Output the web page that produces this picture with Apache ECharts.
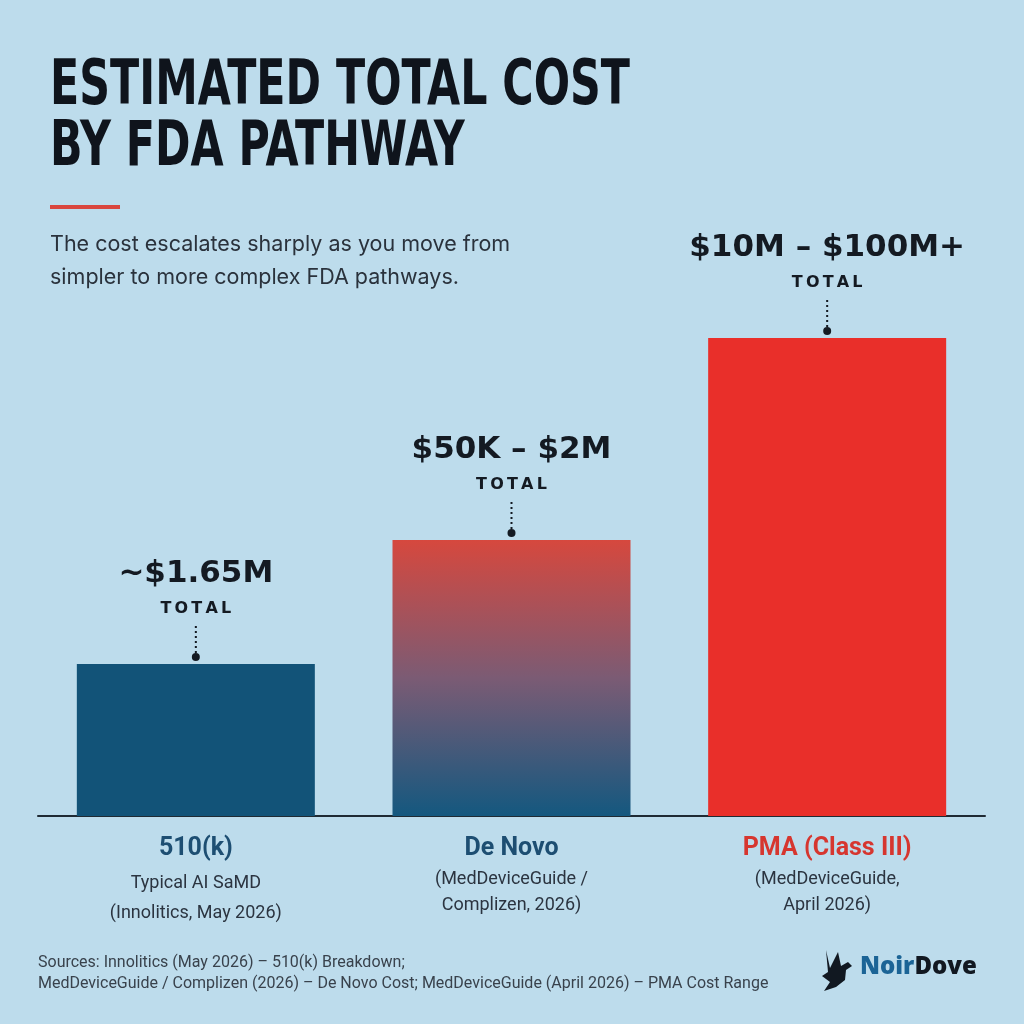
<!DOCTYPE html>
<html>
<head>
<meta charset="utf-8">
<title>Estimated Total Cost by FDA Pathway</title>
<script src="https://cdn.jsdelivr.net/npm/echarts@6/dist/echarts.min.js"></script>
<style>
  html, body { margin: 0; padding: 0; background: #bddcec; }
  #chart { width: 1024px; height: 1024px; }
</style>
</head>
<body>
<div id="chart"></div>
<script>
// pathways shown left to right
var categories = ['510(k)', 'De Novo', 'PMA (Class III)'];
var subLines = [
  ['Typical AI SaMD', '(Innolitics, May 2026)'],
  ['(MedDeviceGuide /', 'Complizen, 2026)'],
  ['(MedDeviceGuide,', 'April 2026)']
];
var costLabels = ['~$1.65M', '$50K \u2013 $2M', '$10M \u2013 $100M+'];
// relative bar heights as drawn (the chart has no numeric scale)
var barHeights = [152, 276, 478];

var chart = echarts.init(document.getElementById('chart'));

var barColors = [
  '#125378',
  new echarts.graphic.LinearGradient(0, 0, 0, 1, [
    { offset: 0, color: '#d6483e' },
    { offset: 0.5, color: '#7b5b74' },
    { offset: 1, color: '#14587f' }
  ]),
  '#e92f2a'
];

var option = {
  backgroundColor: '#bddcec',
  animation: false,
  grid: { left: 38, right: 39, top: 166, bottom: 208 },
  xAxis: {
    type: 'category',
    data: categories,
    axisLine: { lineStyle: { color: '#1f2a33', width: 2 } },
    axisTick: { show: false },
    axisLabel: {
      margin: 18,
      interval: 0,
      formatter: function (val, i) {
        var nm = i === 2 ? 'nr' : 'nb';
        if (i === 0) {
          return '{' + nm + '|' + val + '}\n{sa|' + subLines[i][0] + '}\n{sb|' + subLines[i][1] + '}';
        }
        return '{' + nm + '|' + val + '}\n{sc|' + subLines[i][0] + '}\n{sd|' + subLines[i][1] + '}';
      },
      rich: {
        nb: { fontFamily: 'Roboto', fontWeight: 'bold', fontSize: 25, color: '#1d4e72', lineHeight: 30 },
        nr: { fontFamily: 'Roboto', fontWeight: 'bold', fontSize: 25, color: '#d6362f', lineHeight: 30 },
        sa: { fontFamily: 'Roboto', fontSize: 18, color: '#2b3440', lineHeight: 38 },
        sb: { fontFamily: 'Roboto', fontSize: 18, color: '#2b3440', lineHeight: 22 },
        sc: { fontFamily: 'Roboto', fontSize: 18, color: '#2b3440', lineHeight: 31 },
        sd: { fontFamily: 'Roboto', fontSize: 18, color: '#2b3440', lineHeight: 20 }
      }
    }
  },
  yAxis: {
    type: 'value',
    min: 0,
    max: 650,
    show: false
  },
  series: [
    {
      type: 'bar',
      barWidth: 238,
      data: barHeights.map(function (v, i) {
        return { value: v, itemStyle: { color: barColors[i] } };
      }),
      label: {
        show: true,
        position: 'top',
        distance: 44,
        formatter: function (p) {
          return '{v|' + costLabels[p.dataIndex] + '}\n{t|T\u2009O\u2009T\u2009A\u2009L}';
        },
        rich: {
          v: { fontFamily: 'DejaVu Sans', fontWeight: 'bold', fontSize: 31, color: '#141a22', lineHeight: 48 },
          t: { fontFamily: 'DejaVu Sans', fontWeight: 'bold', fontSize: 16, color: '#141a22', lineHeight: 22 }
        }
      }
    },
    {
      // dotted leader and dot above each bar
      type: 'custom',
      silent: true,
      data: barHeights.map(function (v, i) { return [i, v]; }),
      renderItem: function (params, api) {
        var pt = api.coord([api.value(0), api.value(1)]);
        return {
          type: 'group',
          children: [
            {
              type: 'line',
              shape: { x1: pt[0], y1: pt[1] - 11, x2: pt[0], y2: pt[1] - 38 },
              style: { stroke: '#141a22', lineWidth: 2, lineDash: [2, 3] }
            },
            {
              type: 'circle',
              shape: { cx: pt[0], cy: pt[1] - 7, r: 4 },
              style: { fill: '#141a22' }
            }
          ]
        };
      }
    }
  ],
  graphic: [
    {
      type: 'text', x: 50, y: 57, scaleX: 0.767,
      style: {
        text: 'ESTIMATED TOTAL COST\nBY FDA PATHWAY',
        fontFamily: '"DejaVu Sans Condensed", "DejaVu Sans", sans-serif', fontWeight: 'bold', fontSize: 62,
        lineHeight: 61, fill: '#0f141c', verticalAlign: 'top', align: 'left'
      }
    },
    {
      type: 'rect', shape: { x: 50, y: 205, width: 70, height: 4 },
      style: { fill: '#d9463e' }
    },
    {
      type: 'text', left: 50, top: 228,
      style: {
        text: 'The cost escalates sharply as you move from\nsimpler to more complex FDA pathways.',
        fontFamily: 'Inter', fontSize: 21.5, lineHeight: 33, fill: '#2a323c'
      }
    },
    {
      type: 'text', left: 38, top: 952,
      style: {
        text: 'Sources: Innolitics (May 2026) \u2013 510(k) Breakdown;\nMedDeviceGuide / Complizen (2026) \u2013 De Novo Cost; MedDeviceGuide (April 2026) \u2013 PMA Cost Range',
        fontFamily: 'Roboto', fontSize: 16, lineHeight: 21, fill: '#39424c'
      }
    },
    {
      // rough dove mark
      type: 'polygon',
      shape: {
        points: [[826, 950], [830, 968], [834, 960], [838, 952], [841, 966], [848, 962], [852, 966],
                 [846, 970], [845, 980], [836, 987], [824, 991], [830, 982], [822, 976], [828, 972]]
      },
      style: { fill: '#111821' }
    },
    {
      type: 'text', left: 860, top: 955,
      style: {
        text: '{a|Noir}{b|Dove}',
        rich: {
          a: { fontFamily: 'Open Sans', fontWeight: 800, fontSize: 24, fill: '#1b6496' },
          b: { fontFamily: 'Open Sans', fontWeight: 800, fontSize: 24, fill: '#111821' }
        }
      }
    }
  ]
};

chart.setOption(option);
</script>
</body>
</html>
